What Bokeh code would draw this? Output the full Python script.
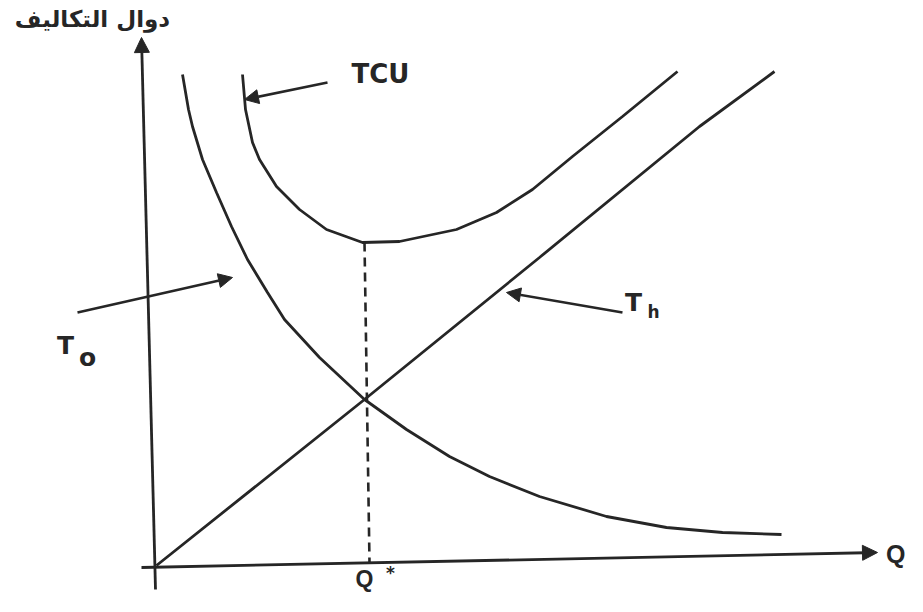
from bokeh.plotting import figure
from bokeh.models import Range1d, Arrow, NormalHead, Label
from bokeh.embed import file_html
from bokeh.resources import INLINE

# ---- data (Q = order quantity, cost = cost value) ----
q_order = [28, 34, 38, 48, 62, 77, 93, 113, 130, 165, 210, 252, 295, 335, 385, 452, 512, 568, 627]
cost_order = [490, 455, 438, 405, 372, 338, 305, 272, 245, 207, 165, 135, 108, 88, 68, 48, 37, 32, 30]

q_total = [88, 91, 98, 105, 122, 145, 172, 208, 245, 302, 342, 378, 418, 468, 523]
cost_total = [490, 455, 422, 405, 378, 355, 335, 322, 323, 335, 352, 375, 408, 448, 493]

q_hold = [2, 210, 385, 545, 620]
cost_hold = [-1, 165, 307, 438, 493]

q_star = [210, 215]
q_star_cost = [322, 2]

y_axis_label = "دوال التكاليف"
x_axis_label = "Q"

INK = "#262626"

p = figure(width=907, height=596,
           x_range=Range1d(-154, 753), y_range=Range1d(-32, 564),
           x_axis_type=None, y_axis_type=None,
           output_backend="svg", toolbar_location=None, min_border=0)
p.grid.visible = False
p.outline_line_color = None
p.background_fill_color = "white"
p.border_fill_color = "white"

# axes with arrow heads
p.add_layout(Arrow(end=NormalHead(size=15, fill_color=INK, line_color=INK),
                   x_start=1, y_start=-25, x_end=-13, y_end=527,
                   line_color=INK, line_width=2.8))
p.add_layout(Arrow(end=NormalHead(size=15, fill_color=INK, line_color=INK),
                   x_start=-13, y_start=-3, x_end=723, y_end=12,
                   line_color=INK, line_width=2.8))

# curves
p.line(q_order, cost_order, line_color=INK, line_width=2.8)
p.line(q_total, cost_total, line_color=INK, line_width=2.8)
p.line(q_hold, cost_hold, line_color=INK, line_width=2.8)
p.line(q_star, q_star_cost, line_color=INK, line_width=2.6, line_dash="9 6")

# pointer arrows to the curves
for xs, ys, xe, ye in [(173, 482, 90, 465), (-77, 252, 78, 287), (468, 252, 352, 272)]:
    p.add_layout(Arrow(end=NormalHead(size=14, fill_color=INK, line_color=INK),
                       x_start=xs, y_start=ys, x_end=xe, y_end=ye,
                       line_color=INK, line_width=2.6))

def lab(x, y, t, size, font="DejaVu Sans", bold=True, align="center"):
    p.add_layout(Label(x=x, y=y, text=t, text_font=font,
                       text_font_style="bold" if bold else "normal",
                       text_font_size=size, text_color=INK,
                       text_align=align, text_baseline="middle"))

lab(-62, 546, y_axis_label, "23px")
lab(226, 491, "TCU", "26px")
lab(-89, 219, "T", "25px")
lab(-67, 207, "o", "25px")
lab(479, 262, "T", "25px")
lab(499, 253, "h", "17px")
lab(210, -14, "Q", "23px", font="Liberation Sans")
lab(236, -8, "*", "17px")
lab(751, 11, x_axis_label, "25px", font="Liberation Sans", align="right")

open("out.html", "w").write(file_html(p, INLINE))
